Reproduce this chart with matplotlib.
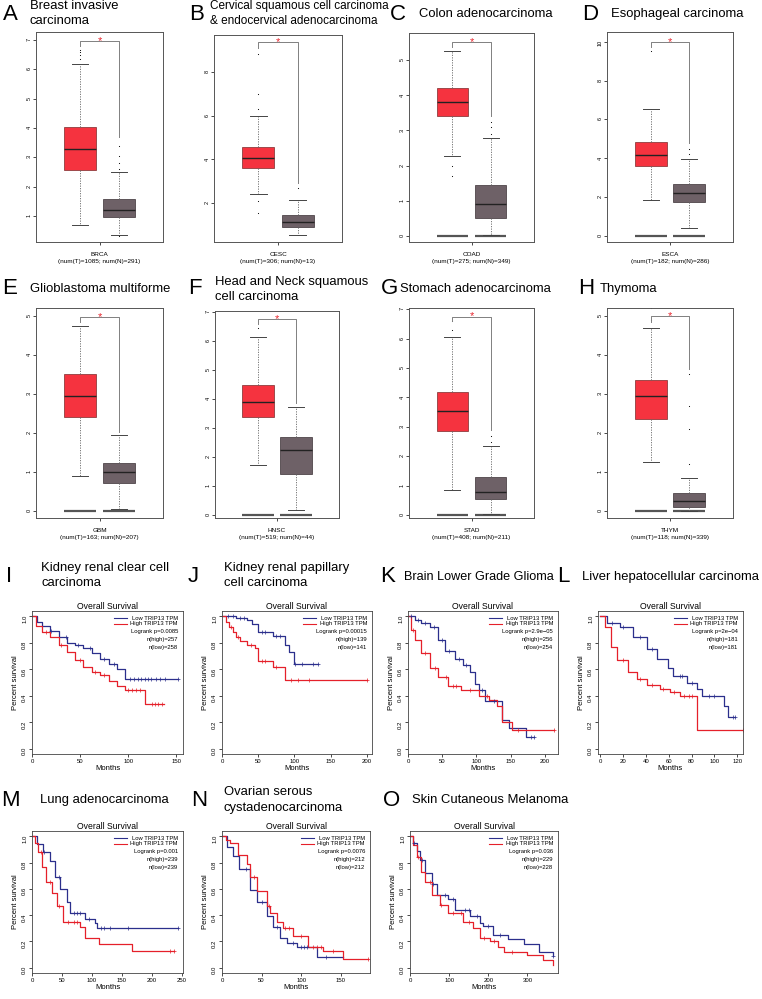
import numpy as np
import matplotlib
matplotlib.use('Agg')
import matplotlib.pyplot as plt

plt.rcParams['font.family'] = ['Liberation Sans', 'DejaVu Sans']

W, H = 762, 999

# ---- expression box plots (A-H) ----
box_letters = ['A', 'B', 'C', 'D', 'E', 'F', 'G', 'H']
box_titles = ['Breast invasive\ncarcinoma',
              'Cervical squamous cell carcinoma\n& endocervical adenocarcinoma',
              'Colon adenocarcinoma', 'Esophageal carcinoma',
              'Glioblastoma multiforme', 'Head and Neck squamous\ncell carcinoma',
              'Stomach adenocarcinoma', 'Thymoma']
box_codes = ['BRCA', 'CESC', 'COAD', 'ESCA', 'GBM', 'HNSC', 'STAD', 'THYM']
num_tumor = [1085, 306, 275, 182, 163, 519, 408, 118]
num_normal = [291, 13, 349, 286, 207, 44, 211, 339]
# whislo, q1, med, q3, whishi
tumor_stats = [[0.68, 2.55, 3.28, 4.03, 6.18],
               [2.40, 3.60, 4.08, 4.57, 5.97],
               [2.27, 3.41, 3.81, 4.20, 5.27],
               [1.86, 3.60, 4.17, 4.84, 6.55],
               [0.90, 2.41, 2.95, 3.51, 4.74],
               [1.72, 3.38, 3.90, 4.50, 6.14],
               [0.85, 2.85, 3.55, 4.20, 6.05],
               [1.25, 2.35, 2.95, 3.35, 4.70]]
normal_stats = [[0.35, 0.95, 1.20, 1.58, 2.48],
                [0.53, 0.90, 1.13, 1.45, 2.14],
                [0.03, 0.51, 0.90, 1.45, 2.78],
                [0.41, 1.75, 2.20, 2.66, 3.95],
                [0.05, 0.72, 1.00, 1.23, 1.95],
                [0.17, 1.41, 2.24, 2.69, 3.72],
                [0.02, 0.55, 0.80, 1.28, 2.35],
                [0.00, 0.10, 0.25, 0.45, 0.85]]
tumor_out = [[6.35, 6.5, 6.6, 6.65], [6.3, 7.0, 8.85, 2.1, 1.55], [2.0, 1.7],
             [9.5], [], [6.45], [6.3, 6.6], [4.9, 5.2]]
normal_out = [[2.6, 2.8, 3.05, 3.38, 0.3], [2.67], [2.9, 3.1, 3.25],
              [4.2, 4.5], [], [], [2.5, 2.7], [1.2, 2.1, 2.7, 3.5]]
box_ylim = [(0.11, 7.27), (0.21, 9.7), (-0.17, 5.77), (-0.3, 10.5),
            (-0.18, 5.2), (-0.1, 7.04), (-0.1, 7.04), (-0.18, 5.2)]
box_yticks = [range(1, 8), range(2, 9, 2), range(0, 6), range(0, 11, 2),
              range(0, 6), range(0, 8), range(0, 8), range(0, 6)]
# bracket: height, left end, right end
bracket = [(6.97, 6.8, 3.7), (9.38, 9.1, 2.9), (5.51, 5.37, 3.4), (10.0, 9.75, 4.8),
           (4.97, 4.85, 2.02), (6.76, 6.6, 3.85), (6.75, 6.6, 2.9), (5.0, 4.85, 3.65)]

box_rects = [(36, 32, 163, 242), (214, 35, 342, 242), (409, 33, 534, 242), (607, 32, 733, 242),
             (36, 308, 163, 518), (215, 311, 339, 518), (409, 308, 534, 518), (607, 308, 733, 518)]
box_letter_xy = [(3, 14), (189, 14), (390, 14), (582, 14),
                 (2, 289), (188, 289), (381, 289), (578, 289)]
box_title_xy = [(30, 13.5), (210, 13.5), (419, 14), (611, 14),
                (30, 289), (215, 289.5), (400, 289), (600, 289)]
box_title_size = [9.4, 8.5, 9.4, 9.4, 9.4, 9.4, 9.4, 9.4]

# ---- survival curves (I-O) ----
km_letters = ['I', 'J', 'K', 'L', 'M', 'N', 'O']
km_titles = ['Kidney renal clear cell\ncarcinoma', 'Kidney renal papillary\ncell carcinoma',
             'Brain Lower Grade Glioma', 'Liver hepatocellular carcinoma',
             'Lung adenocarcinoma', 'Ovarian serous\ncystadenocarcinoma',
             'Skin Cutaneous Melanoma']
km_title_size = [9.4, 9.4, 9.1, 9.4, 9.4, 9.4, 9.4]
km_p = ['0.0085', '0.00015', '2.9e\u221205', '2e\u221204', '0.001', '0.0076', '0.036']
km_nhigh = [257, 139, 256, 181, 239, 212, 229]
km_nlow = [258, 141, 254, 181, 239, 212, 228]

low_t = [[0, 5, 10, 19, 28, 36, 45, 53, 62, 71, 80, 88, 97, 152],
         [0, 20, 34, 42, 50, 70, 87, 92, 99, 132],
         [0, 10, 19, 32, 44, 54, 69, 80, 91, 98, 103, 113, 137, 147, 172, 184],
         [0, 6, 17, 29, 41, 50, 59, 64, 76, 85, 89, 108, 112, 118],
         [0, 8, 18, 30, 38, 47, 58, 63, 88, 105, 108, 243],
         [0, 6, 14, 22, 35, 44, 57, 65, 73, 82, 95, 120, 153],
         [0, 8, 17, 26, 39, 56, 68, 97, 115, 154, 179, 187, 213, 250, 290, 330, 365]]
low_s = [[1.0, 0.96, 0.93, 0.89, 0.84, 0.80, 0.78, 0.76, 0.72, 0.68, 0.64, 0.60, 0.53, 0.53],
         [1.0, 0.99, 0.97, 0.94, 0.88, 0.85, 0.78, 0.73, 0.64, 0.64],
         [1.0, 0.97, 0.95, 0.92, 0.82, 0.74, 0.68, 0.63, 0.58, 0.49, 0.44, 0.36, 0.22, 0.16, 0.09, 0.09],
         [1.0, 0.95, 0.92, 0.84, 0.75, 0.68, 0.61, 0.55, 0.50, 0.45, 0.40, 0.32, 0.24, 0.24],
         [1.0, 0.94, 0.88, 0.81, 0.69, 0.60, 0.50, 0.42, 0.37, 0.34, 0.30, 0.30],
         [1.0, 0.92, 0.85, 0.75, 0.59, 0.50, 0.39, 0.31, 0.23, 0.19, 0.16, 0.08, 0.08],
         [1.0, 0.95, 0.89, 0.82, 0.72, 0.64, 0.55, 0.52, 0.44, 0.39, 0.34, 0.32, 0.25, 0.22, 0.18, 0.12, 0.09]]
high_t = [[0, 4, 10, 19, 28, 36, 45, 53, 62, 71, 80, 88, 97, 118, 137],
          [0, 5, 10, 15, 20, 25, 35, 45, 50, 70, 87, 200],
          [0, 5, 10, 19, 32, 44, 59, 78, 103, 118, 130, 137, 152, 213],
          [0, 4, 9, 15, 24, 32, 41, 52, 61, 70, 85, 125],
          [0, 5, 10, 17, 23, 33, 41, 52, 80, 88, 112, 167, 237],
          [0, 5, 10, 20, 32, 35, 44, 57, 61, 70, 77, 90, 109, 127, 153, 184],
          [0, 8, 18, 28, 38, 56, 77, 97, 136, 162, 180, 205, 226, 240, 300, 340, 365]]
high_s = [[1.0, 0.93, 0.88, 0.84, 0.78, 0.73, 0.67, 0.62, 0.58, 0.56, 0.51, 0.47, 0.44, 0.34, 0.34],
          [1.0, 0.96, 0.92, 0.88, 0.84, 0.81, 0.78, 0.76, 0.66, 0.62, 0.52, 0.52],
          [1.0, 0.90, 0.82, 0.72, 0.61, 0.54, 0.47, 0.44, 0.40, 0.37, 0.32, 0.20, 0.14, 0.14],
          [1.0, 0.92, 0.77, 0.67, 0.58, 0.53, 0.48, 0.45, 0.43, 0.40, 0.14, 0.14],
          [1.0, 0.95, 0.88, 0.77, 0.65, 0.57, 0.47, 0.35, 0.31, 0.23, 0.18, 0.13, 0.13],
          [1.0, 0.97, 0.95, 0.86, 0.79, 0.69, 0.58, 0.47, 0.42, 0.35, 0.30, 0.24, 0.16, 0.13, 0.07, 0.07],
          [1.0, 0.93, 0.84, 0.73, 0.65, 0.55, 0.48, 0.42, 0.35, 0.30, 0.23, 0.20, 0.16, 0.12, 0.10, 0.06, 0.02]]
# censored times
low_c = [[20, 35, 48, 60, 75, 85, 102, 106, 110, 113, 117, 121, 124, 129, 133, 138, 152],
         [8, 15, 25, 30, 55, 60, 75, 80, 101, 110, 125, 132],
         [5, 15, 25, 38, 50, 60, 75, 85, 108, 125, 180, 184],
         [10, 20, 35, 45, 70, 72, 80, 95, 100, 116, 118],
         [20, 45, 70, 75, 80, 95, 115, 120, 130, 160, 243],
         [30, 50, 70, 90, 100, 103, 107, 132],
         [10, 30, 60, 90, 110, 140, 150, 170, 200, 230, 365]]
high_c = [[15, 30, 50, 65, 75, 100, 104, 108, 112, 125, 128, 131, 135],
          [12, 22, 40, 55, 60, 75, 95, 105, 120, 200],
          [8, 25, 40, 55, 65, 70, 90, 115, 160, 213],
          [20, 35, 45, 55, 65, 73, 78, 80, 125],
          [15, 30, 45, 60, 70, 75, 230, 237],
          [40, 60, 80, 85, 100, 115, 120, 125, 140, 184],
          [20, 50, 80, 110, 130, 150, 190, 215, 260]]
km_xlim = [(0, 157), (0, 207), (0, 219), (-2, 125), (0, 252), (0, 187), (0, 378)]
km_xticks = [range(0, 151, 50), range(0, 201, 50), range(0, 201, 50), range(0, 121, 20),
             range(0, 251, 50), range(0, 151, 50), range(0, 301, 100)]
km_rects = [(32, 611, 183, 754), (222, 611, 372, 754), (408, 611, 558, 754), (598, 611, 743, 754),
            (32, 831, 183, 973), (222, 831, 370, 973), (410, 831, 558, 973)]
km_letter_xy = [(6, 577), (188, 577), (380, 577), (557, 577), (1, 800), (191, 800), (383, 800)]
km_title_xy = [(41, 575.5), (224, 575.5), (404, 577), (582, 577), (40, 800), (224, 800), (412, 800)]

red_box = '#F5333F'
gray_box = '#6E6167'
blue = '#2B2F8C'
red = '#E5202A'


def px_axes(l, t, r, b):
    return fig.add_axes([l / W, 1 - b / H, (r - l) / W, (b - t) / H])


def fig_text(x, y, s, **kw):
    fig.text(x / W, 1 - y / H, s, va='center', ha='left', **kw)


fig = plt.figure(figsize=(W / 100, H / 100), dpi=100, facecolor='white')

for i in range(8):
    ax = px_axes(*box_rects[i])
    stats = []
    for q in (tumor_stats[i], normal_stats[i]):
        stats.append(dict(whislo=q[0], q1=q[1], med=q[2], q3=q[3], whishi=q[4], fliers=[]))
    # flat boxes at zero drawn by the web tool
    for pos in (1, 2):
        ax.hlines(0, pos - 0.41, pos + 0.41, color='#555555', lw=1.6, zorder=1)
    bp = ax.bxp(stats, positions=[1, 2], widths=0.82, capwidths=0.42, patch_artist=True,
                showfliers=False,
                medianprops=dict(color='#222222', lw=1.0),
                whiskerprops=dict(color='#666666', lw=0.6, ls=(0, (1.5, 1.5))),
                capprops=dict(color='#444444', lw=0.7))
    bp['boxes'][0].set(facecolor=red_box, edgecolor='#7a2a2a', lw=0.5)
    bp['boxes'][1].set(facecolor=gray_box, edgecolor='#3a3035', lw=0.5)
    ax.plot([1] * len(tumor_out[i]), tumor_out[i], 'k.', ms=1.6, mew=0)
    ax.plot([2] * len(normal_out[i]), normal_out[i], 'k.', ms=1.6, mew=0)
    yb, y_left, y_right = bracket[i]
    ax.plot([1, 1, 2, 2], [y_left, yb, yb, y_right], color='#808080', lw=0.7)
    ax.text(1.5, yb, '*', color='#E8262E', fontsize=8, ha='center', va='center')
    ax.set_xlim(-0.13, 3.13)
    ax.set_ylim(*box_ylim[i])
    ax.set_yticks(list(box_yticks[i]))
    ax.tick_params(axis='y', labelsize=4, length=2, width=0.5, pad=1, labelrotation=90)
    ax.set_xticks([1.5])
    ax.set_xticklabels([box_codes[i] + '\n(num(T)=%d; num(N)=%d)' % (num_tumor[i], num_normal[i])],
                       fontsize=4.6, linespacing=1.5)
    ax.tick_params(axis='x', length=2.5, width=0.5, pad=5)
    for sp in ax.spines.values():
        sp.set_linewidth(0.7)
        sp.set_color('#555555')
    fig_text(*box_letter_xy[i], box_letters[i], fontsize=16)
    fig_text(*box_title_xy[i], box_titles[i], fontsize=box_title_size[i], linespacing=1.35)


def step_at(t, s, c):
    idx = np.searchsorted(t, c, side='right') - 1
    return np.array(s)[idx]


for i in range(7):
    l, t, r, b = km_rects[i]
    ax = px_axes(l, t, r, b)
    wpx, hpx = r - l, b - t
    ax.step(low_t[i], low_s[i], where='post', color=blue, lw=0.9)
    ax.step(high_t[i], high_s[i], where='post', color=red, lw=0.9)
    ax.plot(low_c[i], step_at(low_t[i], low_s[i], low_c[i]), '+', color=blue, ms=2.5, mew=0.5)
    ax.plot(high_c[i], step_at(high_t[i], high_s[i], high_c[i]), '+', color=red, ms=2.5, mew=0.5)
    ax.set_xlim(*km_xlim[i])
    ax.set_ylim(-0.04, 1.04)
    ax.set_xticks(list(km_xticks[i]))
    ax.set_yticks([0, 0.2, 0.4, 0.6, 0.8, 1.0])
    ax.set_yticklabels(['0.0', '0.2', '0.4', '0.6', '0.8', '1.0'])
    ax.tick_params(labelsize=4.3, length=2, width=0.5, pad=1.5)
    ax.tick_params(axis='y', labelrotation=90)
    ax.set_title('Overall Survival', fontsize=6.2, pad=1.5)
    ax.set_xlabel('Months', fontsize=5.5, labelpad=1)
    ax.set_ylabel('Percent survival', fontsize=5.5, labelpad=2)
    for sp in ax.spines.values():
        sp.set_linewidth(0.6)
        sp.set_color('#444444')
    # legend block, top right
    for k, (col, lab) in enumerate([(blue, 'Low TRIP13 TPM'), (red, 'High TRIP13 TPM')]):
        yy = 1 - (7 + 6 * k) / hpx
        ax.plot([1 - 69 / wpx, 1 - 56 / wpx], [yy, yy], color=col, lw=0.8, transform=ax.transAxes)
        ax.text(1 - 5 / wpx, yy, lab, fontsize=4.2, ha='right', va='center', transform=ax.transAxes)
    extra = ['Logrank p=' + km_p[i], 'n(high)=%d' % km_nhigh[i], 'n(low)=%d' % km_nlow[i]]
    for k, s in enumerate(extra):
        ax.text(1 - 5 / wpx, 1 - (21 + 8 * k) / hpx, s, fontsize=4.2, ha='right', va='center',
                transform=ax.transAxes)
    fig_text(*km_letter_xy[i], km_letters[i], fontsize=16)
    fig_text(*km_title_xy[i], km_titles[i], fontsize=km_title_size[i], linespacing=1.35)

fig.savefig('out.png', dpi=100, facecolor='white')
